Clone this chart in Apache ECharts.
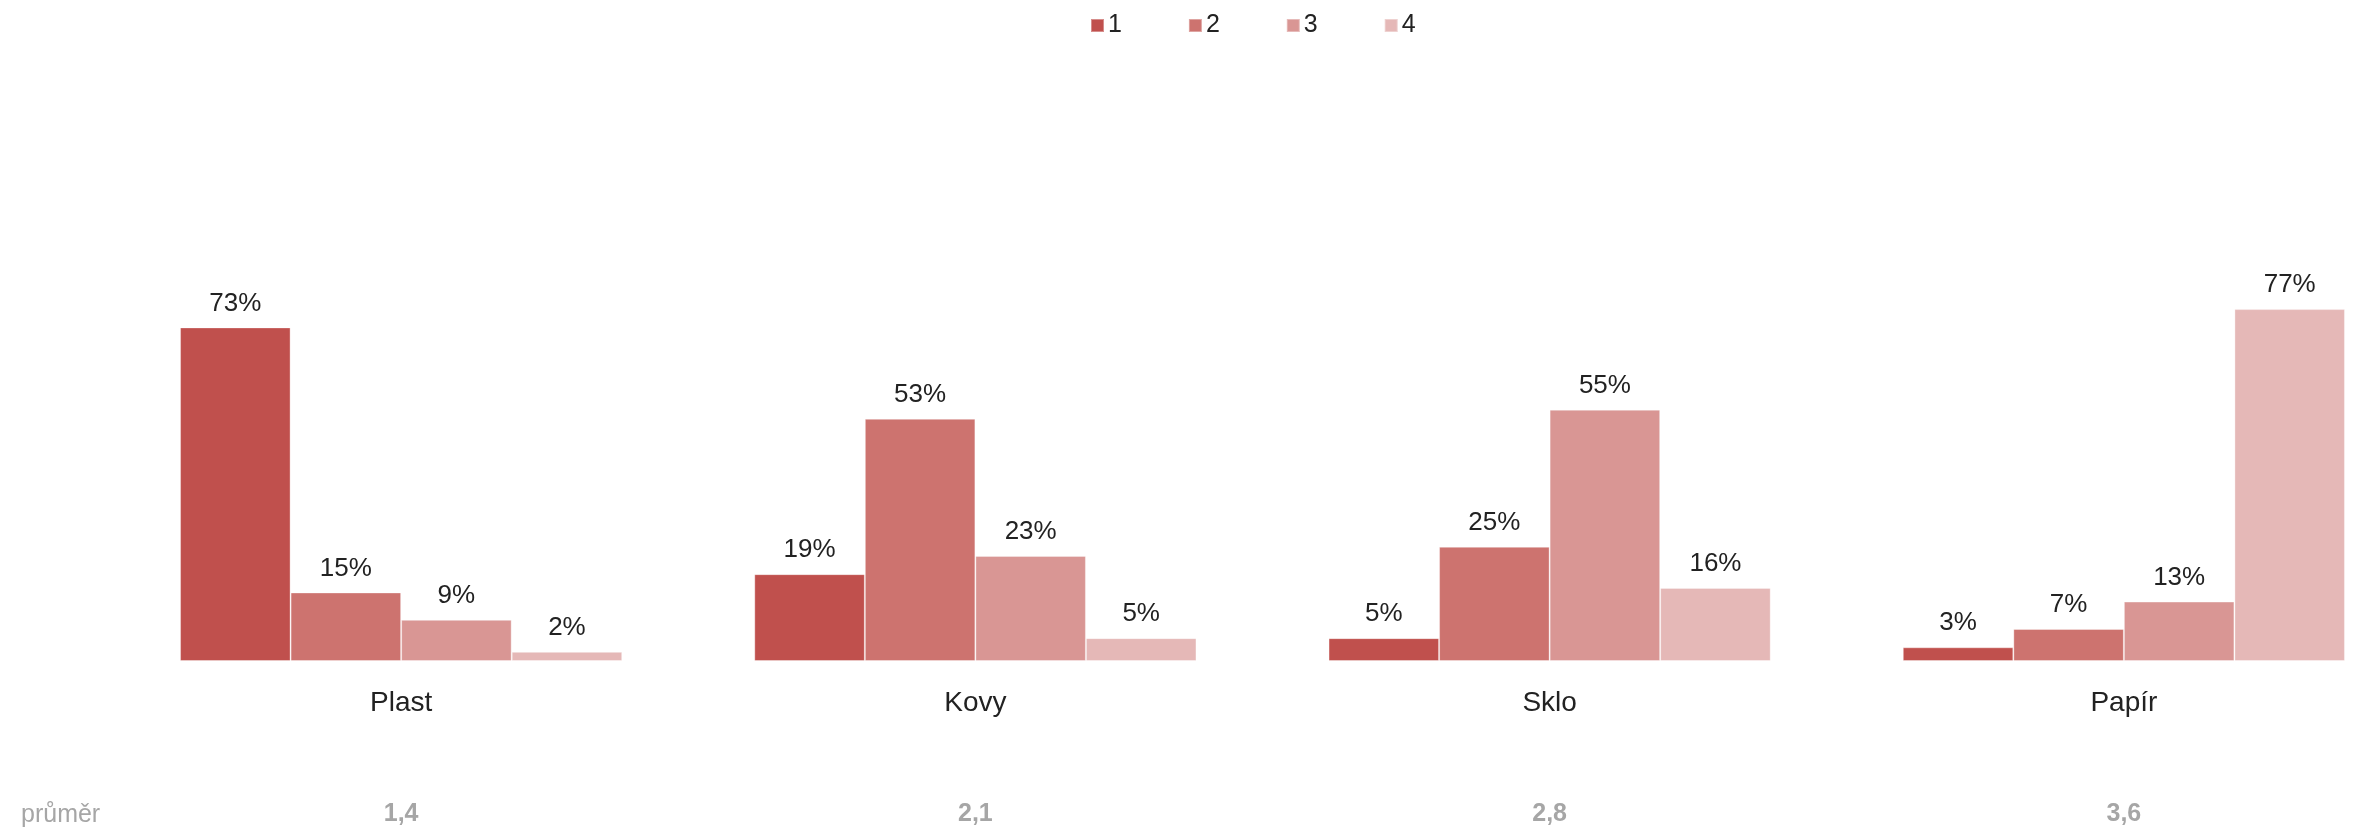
<!DOCTYPE html>
<html>
<head>
<meta charset="utf-8">
<script src="https://cdn.jsdelivr.net/npm/echarts@6/dist/echarts.min.js"></script>
<style>
  html, body { margin: 0; padding: 0; background: #fff; }
  #chart { width: 2356px; height: 829px; }
</style>
</head>
<body>
<div id="chart"></div>
<script>
// kategorie a hodnoty (v %)
const categories = ['Plast', 'Kovy', 'Sklo', 'Papír'];
const seriesNames = ['1', '2', '3', '4'];
const values1 = [73, 19, 5, 3];
const values2 = [15, 53, 25, 7];
const values3 = [9, 23, 55, 13];
const values4 = [2, 5, 16, 77];
const averages = ['1,4', '2,1', '2,8', '3,6'];
const averageTitle = 'průměr';

const colors = ['#c0504d', '#cd736f', '#d99694', '#e5b8b7'];
const font = '"Liberation Sans", Arial, Helvetica, sans-serif';

const chart = echarts.init(document.getElementById('chart'));

const makeSeries = (name, data, i) => ({
    name: name,
    type: 'bar',
    data: data,
    barGap: 0,
    barCategoryGap: '23%',
    itemStyle: {
        color: colors[i],
        borderColor: 'rgba(255,255,255,0.35)',
        borderWidth: 1
    },
    label: {
        show: true,
        position: 'top',
        distance: 11,
        formatter: '{c}%',
        color: '#222',
        fontSize: 26,
        fontFamily: font
    },
    emphasis: { disabled: true }
});

const option = {
    animation: false,
    color: colors,
    textStyle: { fontFamily: font },
    legend: {
        left: 1085,
        top: 8,
        itemWidth: 13,
        itemHeight: 13,
        itemGap: 66,
        icon: 'rect',
        textStyle: { fontSize: 25, color: '#222', fontFamily: font, padding: [0, 0, 0, -1] },
        data: seriesNames
    },
    title: {
        text: averageTitle,
        left: 16,
        top: 798,
        textStyle: { fontSize: 25, color: '#a6a6a6', fontWeight: 'normal', fontFamily: font }
    },
    // mřížka přesahuje vpravo za plátno, jako v originále
    grid: {
        left: 114,
        width: 2297,
        top: 204,
        bottom: 168,
        containLabel: false,
        outerBoundsMode: 'none'
    },
    xAxis: [
        {
            type: 'category',
            data: categories,
            axisLine: { show: false },
            axisTick: { show: false },
            axisLabel: { color: '#222', fontSize: 28, margin: 28, fontFamily: font }
        },
        {
            type: 'category',
            data: averages,
            position: 'bottom',
            offset: 120,
            axisLine: { show: false },
            axisTick: { show: false },
            axisLabel: { color: '#a6a6a6', fontSize: 25, fontWeight: 'bold', margin: 21, fontFamily: font }
        }
    ],
    yAxis: {
        type: 'value',
        min: 0,
        max: 100,
        show: false,
        splitLine: { show: false }
    },
    series: [
        makeSeries(seriesNames[0], values1, 0),
        makeSeries(seriesNames[1], values2, 1),
        makeSeries(seriesNames[2], values3, 2),
        makeSeries(seriesNames[3], values4, 3)
    ]
};

chart.setOption(option);
</script>
</body>
</html>
